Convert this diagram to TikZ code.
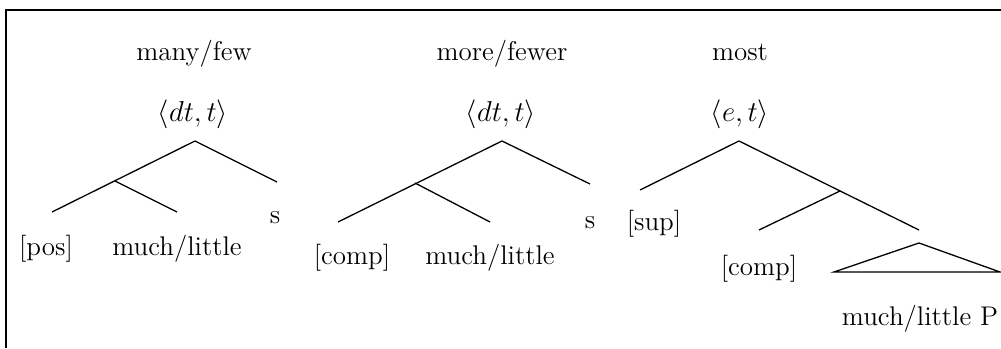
\documentclass[tikz,border=0pt]{standalone}
\begin{document}
\begin{tikzpicture}[x=0.5pt,y=-0.5pt,
  lbl/.style={inner sep=0pt, anchor=base, font=\fontsize{13.5}{16}\selectfont},
  typ/.style={inner sep=0pt, font=\fontsize{15}{17}\selectfont},
  edge/.style={line width=0.65pt},
  frame/.style={line width=1pt}]
\useasboundingbox (0,0) rectangle (1001,348);
\coordinate (fb) at (6,348);
\coordinate (ftl) at (6,9.5);
\coordinate (ftr) at (1001,9.5);
\draw[frame] (fb) -- (ftl) -- (ftr);
% tree 1
\node[lbl] (w1) at (194,61) {many/few};
\node[typ] (ty1) at (193,114.5) {$\langle dt,t\rangle$};
\coordinate (r1) at (195,141);
\coordinate (m1) at (115,181);
\coordinate (a1) at (52,212);
\coordinate (b1) at (177,212);
\coordinate (c1) at (277,182);
\draw[edge] (a1) -- (r1) -- (c1);
\draw[edge] (m1) -- (b1);
\node[lbl] (pos) at (46,255) {[pos]};
\node[lbl] (ml1) at (177,255) {much/little};
\node[lbl] (s1) at (275,223) {s};
% tree 2
\node[lbl] (w2) at (502,61) {more/fewer};
\node[typ] (ty2) at (501,114.5) {$\langle dt,t\rangle$};
\coordinate (r2) at (502,141);
\coordinate (m2) at (415,183);
\coordinate (a2) at (338,222);
\coordinate (b2) at (490,222);
\coordinate (c2) at (590,184);
\draw[edge] (a2) -- (r2) -- (c2);
\draw[edge] (m2) -- (b2);
\node[lbl] (comp2) at (352,264) {[comp]};
\node[lbl] (ml2) at (490,264) {much/little};
\node[lbl] (s2) at (590,228) {s};
% tree 3
\node[lbl] (w3) at (740,61) {most};
\node[typ] (ty3) at (740,114.5) {$\langle e,t\rangle$};
\coordinate (r3) at (739,141);
\coordinate (a3) at (640,190);
\coordinate (c3) at (919,230);
\coordinate (m3) at (840,191);
\coordinate (b3) at (759,230);
\draw[edge] (a3) -- (r3) -- (c3);
\draw[edge] (m3) -- (b3);
\node[lbl] (sup) at (654,230) {[sup]};
\node[lbl] (comp3) at (759,275) {[comp]};
\coordinate (tt) at (919,243);
\coordinate (tl) at (834,272);
\coordinate (tr) at (1000,272);
\draw[edge] (tl) -- (tt) -- (tr) -- cycle;
\node[lbl] (ml3) at (920,325) {much/little P};
\end{tikzpicture}
\end{document}
